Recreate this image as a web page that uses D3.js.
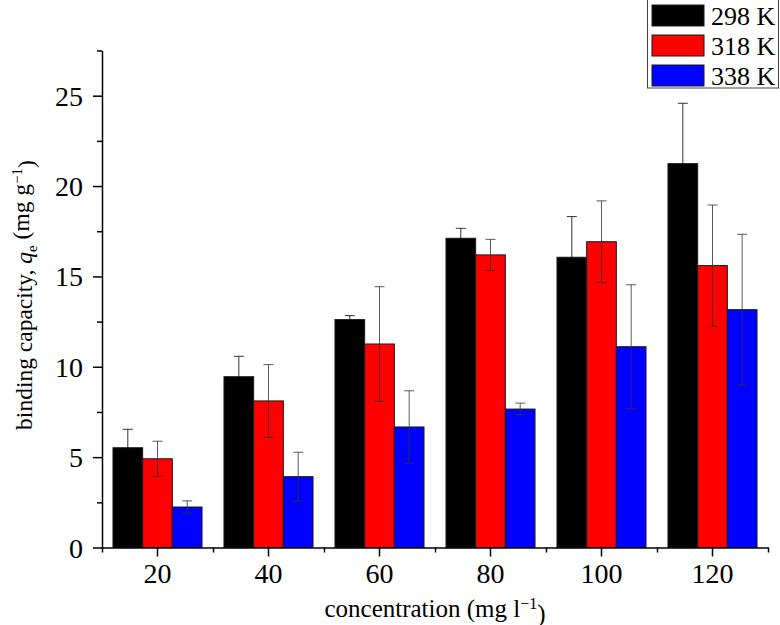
<!DOCTYPE html>
<html>
<head>
<meta charset="utf-8">
<script src="https://cdn.jsdelivr.net/npm/d3@7"></script>
<style>
  body { margin: 0; background: #fff; }
  svg { display: block; }
  text { font-family: "Liberation Serif", "Times New Roman", serif; fill: #000; }
</style>
</head>
<body>
<svg id="chart" width="780" height="625"></svg>
<script>
const categories = ["20", "40", "60", "80", "100", "120"];
const seriesNames = ["298 K", "318 K", "338 K"];
const seriesColors = ["#000000", "#ff0000", "#0000ff"];
const errorColors = ["#000000", "#333333", "#333333"];
const values298 = [5.52, 9.45, 12.61, 17.11, 16.06, 21.24];
const values318 = [4.91, 8.11, 11.26, 16.19, 16.92, 15.60];
const values338 = [2.24, 3.92, 6.67, 7.66, 11.11, 13.16];
const errors298 = [1.02, 1.13, 0.22, 0.55, 2.25, 3.34];
const errors318 = [0.97, 2.01, 3.17, 0.86, 2.26, 3.35];
const errors338 = [0.34, 1.35, 2.00, 0.33, 3.43, 4.17];
const yTicks = [0, 5, 10, 15, 20, 25];
const yMinorTicks = [2.5, 7.5, 12.5, 17.5, 22.5, 27.5];

const allValues = [values298, values318, values338];
const allErrors = [errors298, errors318, errors338];

const svg = d3.select("#chart");
const mLeft = 102, mRight = 768, mTop = 50.5, mBottom = 547.5;

const x = d3.scaleBand().domain(categories).range([mLeft, mRight]).padding(0);
const xInner = d3.scaleBand().domain(seriesNames).range([0, x.bandwidth()]).paddingInner(0).paddingOuter(0.37);
const y = d3.scaleLinear().domain([0, 27.5]).range([mBottom, mTop]);

// Bars
const groups = svg.append("g").selectAll("g").data(categories).join("g")
  .attr("transform", d => `translate(${x(d)},0)`);

seriesNames.forEach((s, si) => {
  groups.append("rect")
    .attr("x", xInner(s))
    .attr("y", (d, i) => y(allValues[si][i]))
    .attr("width", xInner.bandwidth())
    .attr("height", (d, i) => y(0) - y(allValues[si][i]))
    .attr("fill", seriesColors[si])
    .attr("stroke", "#1a1a1a")
    .attr("stroke-width", 1);
});

// Error bars
seriesNames.forEach((s, si) => {
  const cx = xInner(s) + xInner.bandwidth() / 2;
  const eg = groups.append("g").attr("stroke", errorColors[si]).attr("stroke-opacity", 0.8)
    .attr("stroke-width", 1).attr("fill", "none");
  eg.append("line")
    .attr("x1", cx).attr("x2", cx)
    .attr("y1", (d, i) => y(allValues[si][i] + allErrors[si][i]))
    .attr("y2", (d, i) => y(allValues[si][i] - allErrors[si][i]));
  eg.append("line")
    .attr("x1", cx - 5).attr("x2", cx + 5)
    .attr("y1", (d, i) => y(allValues[si][i] + allErrors[si][i]))
    .attr("y2", (d, i) => y(allValues[si][i] + allErrors[si][i]));
  eg.append("line")
    .attr("x1", cx - 5).attr("x2", cx + 5)
    .attr("y1", (d, i) => y(allValues[si][i] - allErrors[si][i]))
    .attr("y2", (d, i) => y(allValues[si][i] - allErrors[si][i]));
});

// Y axis
const yAxis = d3.axisLeft(y).tickValues(yTicks).tickSize(9).tickPadding(10).tickSizeOuter(0);
const yg = svg.append("g").attr("transform", `translate(${mLeft},0)`).call(yAxis);
yg.select(".domain").attr("stroke", "#000").attr("stroke-width", 1.5);
yg.selectAll(".tick line").attr("stroke", "#000").attr("stroke-width", 1.5);
yg.selectAll(".tick text").style("font-family", "Liberation Serif").style("font-size", "28px").attr("dy", "0.34em");
const yMinor = d3.axisLeft(y).tickValues(yMinorTicks).tickSize(5).tickFormat("").tickSizeOuter(0);
const ymg = svg.append("g").attr("transform", `translate(${mLeft},0)`).call(yMinor);
ymg.select(".domain").remove();
ymg.selectAll(".tick line").attr("stroke", "#000").attr("stroke-width", 1.5);

// X axis
const xAxis = d3.axisBottom(x).tickSize(9).tickPadding(7).tickSizeOuter(0);
const xg = svg.append("g").attr("transform", `translate(0,${mBottom})`).call(xAxis);
xg.select(".domain").attr("stroke", "#000").attr("stroke-width", 1.5);
xg.selectAll(".tick line").attr("stroke", "#000").attr("stroke-width", 1.5);
xg.selectAll(".tick text").style("font-family", "Liberation Serif").style("font-size", "28px");
// minor x ticks at band boundaries
const xBounds = categories.map(c => x(c)).concat([x(categories[categories.length - 1]) + x.bandwidth()]);
const xMinorScale = d3.scaleLinear().domain([mLeft, mRight]).range([mLeft, mRight]);
const xMinor = d3.axisBottom(xMinorScale).tickValues(xBounds).tickSize(5).tickFormat("").tickSizeOuter(0);
const xmg = svg.append("g").attr("transform", `translate(0,${mBottom})`).call(xMinor);
xmg.select(".domain").remove();
xmg.selectAll(".tick line").attr("stroke", "#000").attr("stroke-width", 1.5);

// Axis titles
const xt = svg.append("text").attr("x", (mLeft + mRight) / 2).attr("y", 617)
  .attr("text-anchor", "middle").style("font-size", "25px");
xt.append("tspan").text("concentration (mg l");
xt.append("tspan").text("\u22121").attr("dy", "-0.5em").style("font-size", "16px");
xt.append("tspan").text(")").attr("dy", "0.5em");

const yt = svg.append("text")
  .attr("transform", `translate(32,${(mTop + mBottom) / 2 - 4}) rotate(-90)`)
  .attr("text-anchor", "middle").style("font-size", "23.5px");
yt.append("tspan").text("binding capacity, ");
yt.append("tspan").text("q").style("font-style", "italic");
yt.append("tspan").text("e").attr("dy", "0.3em").style("font-size", "15px");
yt.append("tspan").text(" (mg g").attr("dy", "-0.3em");
yt.append("tspan").text("\u22121").attr("dy", "-0.5em").style("font-size", "15px");
yt.append("tspan").text(")").attr("dy", "0.5em");

// Legend
const lg = svg.append("g");
lg.append("rect").attr("x", 647.5).attr("y", -1).attr("width", 131).attr("height", 89)
  .attr("fill", "#fff").attr("stroke", "#444").attr("stroke-width", 1);
seriesNames.forEach((s, i) => {
  lg.append("rect").attr("x", 652).attr("y", 5 + i * 30).attr("width", 52).attr("height", 21)
    .attr("fill", seriesColors[i]).attr("stroke", "#1a1a1a").attr("stroke-width", 1);
  lg.append("text").attr("x", 711).attr("y", 15.5 + i * 30).attr("dy", "0.35em")
    .style("font-size", "26px").text(s);
});
</script>
</body>
</html>
